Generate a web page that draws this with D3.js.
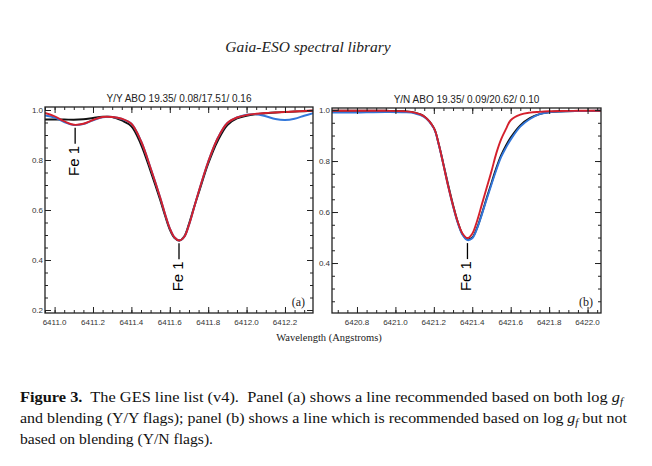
<!DOCTYPE html>
<html><head><meta charset="utf-8">
<script src="https://cdn.jsdelivr.net/npm/d3@7"></script>
<style>
html,body{margin:0;padding:0;background:#fff;}
svg{display:block;}
</style></head>
<body>
<svg id="c" width="652" height="466"></svg>
<script>
// ---------- DATA ----------
const titleA = "Y/Y ABO 19.35/ 0.08/17.51/ 0.16";
const titleB = "Y/N ABO 19.35/ 0.09/20.62/ 0.10";

const waveA = [6410.95,6411.00,6411.05,6411.10,6411.15,6411.20,6411.25,6411.30,6411.35,6411.40,6411.45,6411.50,6411.55,6411.575,6411.60,6411.625,6411.65,6411.675,6411.70,6411.725,6411.75,6411.80,6411.85,6411.90,6411.95,6412.00,6412.05,6412.10,6412.15,6412.20,6412.25,6412.30,6412.35];
const blackA = [0.962,0.962,0.962,0.961,0.963,0.968,0.973,0.972,0.958,0.935,0.862,0.755,0.640,0.578,0.522,0.488,0.478,0.494,0.545,0.608,0.667,0.785,0.877,0.940,0.966,0.977,0.983,0.987,0.990,0.992,0.994,0.995,0.997];
const blueA  = [0.978,0.970,0.952,0.940,0.944,0.959,0.971,0.972,0.964,0.945,0.876,0.768,0.650,0.585,0.527,0.490,0.478,0.492,0.540,0.605,0.672,0.793,0.888,0.948,0.970,0.981,0.983,0.975,0.964,0.960,0.965,0.977,0.988];
const redA   = [0.988,0.975,0.955,0.941,0.945,0.960,0.972,0.972,0.965,0.945,0.876,0.768,0.650,0.585,0.527,0.490,0.478,0.492,0.540,0.605,0.672,0.793,0.888,0.948,0.970,0.980,0.985,0.988,0.990,0.992,0.994,0.996,0.998];

const waveB = [6420.67,6420.75,6420.85,6420.95,6421.05,6421.10,6421.15,6421.20,6421.225,6421.25,6421.275,6421.30,6421.325,6421.35,6421.375,6421.40,6421.425,6421.45,6421.475,6421.50,6421.525,6421.55,6421.575,6421.60,6421.65,6421.70,6421.75,6421.80,6421.85,6421.95,6422.07];
const blackB = [0.997,0.997,0.997,0.997,0.995,0.990,0.975,0.930,0.868,0.788,0.705,0.628,0.560,0.512,0.493,0.500,0.538,0.594,0.655,0.714,0.772,0.822,0.860,0.892,0.940,0.968,0.984,0.991,0.994,0.996,0.997];
const blueB  = [0.990,0.990,0.991,0.992,0.991,0.987,0.973,0.928,0.866,0.785,0.700,0.622,0.556,0.510,0.490,0.497,0.535,0.590,0.650,0.708,0.765,0.815,0.852,0.884,0.935,0.965,0.984,0.991,0.994,0.996,0.997];
const redB   = [0.997,0.997,0.997,0.997,0.995,0.990,0.975,0.930,0.868,0.785,0.700,0.625,0.560,0.515,0.498,0.515,0.565,0.630,0.695,0.760,0.830,0.885,0.925,0.960,0.982,0.990,0.993,0.995,0.996,0.997,0.997];

const xTicksA = [6411.0,6411.2,6411.4,6411.6,6411.8,6412.0,6412.2];
const xTicksB = [6420.8,6421.0,6421.2,6421.4,6421.6,6421.8,6422.0];
const yTicksA = [0.2,0.4,0.6,0.8,1.0];
const yTicksB = [0.4,0.6,0.8,1.0];
const feWaveA = [6411.107,6411.648];
const feWaveB = [6421.375];
const lineLabel = "Fe 1";

const header = "Gaia-ESO spectral library";
const xAxisLabel = "Wavelength (Angstroms)";
const captionLines = [
  [{t:"Figure 3.",b:true},{t:"  The GES line list (v4).  Panel (a) shows a line recommended based on both log "},{t:"g",i:true},{t:"f",i:true,sub:true}],
  [{t:"and blending (Y/Y flags); panel (b) shows a line which is recommended based on log "},{t:"g",i:true},{t:"f",i:true,sub:true},{t:" but not"}],
  [{t:"based on blending (Y/N flags)."}]
];

// ---------- DRAW ----------
const svg = d3.select("#c");
const sans = "'Liberation Sans', Arial, sans-serif";
const serif = "'Liberation Serif', 'Times New Roman', serif";
const colBlack = "#111", colBlue = "#3277da", colRed = "#d4202c";

svg.append("text").attr("x",308).attr("y",52).attr("text-anchor","middle")
  .attr("font-family",serif).attr("font-style","italic").attr("font-size",15.5)
  .attr("fill","#222").text(header);

function panel(cfg){
  const g = svg.append("g");
  const x = d3.scaleLinear().domain(cfg.xd).range([cfg.l,cfg.r]);
  const y = d3.scaleLinear().domain(cfg.yd).range([cfg.b,cfg.t]);
  const id = "clip"+cfg.name;
  svg.append("clipPath").attr("id",id).append("rect")
    .attr("x",cfg.l).attr("y",cfg.t).attr("width",cfg.r-cfg.l).attr("height",cfg.b-cfg.t);

  const line = d3.line().x((d,i)=>x(cfg.wave[i])).y(d=>y(d)).curve(d3.curveCatmullRom.alpha(0.5));
  const lg = g.append("g").attr("clip-path",`url(#${id})`);
  [[cfg.black,colBlack],[cfg.blue,colBlue],[cfg.red,colRed]].forEach(([vals,c])=>{
    lg.append("path").attr("d",line(vals)).attr("fill","none").attr("stroke",c)
      .attr("stroke-width",1.9).attr("stroke-linejoin","round");
  });

  const minorX = d3.range(Math.ceil(cfg.xd[0]/0.05)*0.05, cfg.xd[1], 0.05);
  const minorY = d3.range(Math.ceil(cfg.yd[0]/0.05)*0.05, cfg.yd[1], 0.05);
  const axC = "#222";
  const axes = [
    [d3.axisBottom(x).tickValues(minorX).tickSize(3).tickFormat(""), `translate(0,${cfg.b})`],
    [d3.axisTop(x).tickValues(minorX).tickSize(3).tickFormat(""), `translate(0,${cfg.t})`],
    [d3.axisLeft(y).tickValues(minorY).tickSize(3).tickFormat(""), `translate(${cfg.l},0)`],
    [d3.axisRight(y).tickValues(minorY).tickSize(3).tickFormat(""), `translate(${cfg.r},0)`],
    [d3.axisBottom(x).tickValues(cfg.xt).tickSize(6).tickFormat(""), `translate(0,${cfg.b})`],
    [d3.axisTop(x).tickValues(cfg.xt).tickSize(6).tickFormat(""), `translate(0,${cfg.t})`],
    [d3.axisLeft(y).tickValues(cfg.yt).tickSize(6).tickFormat(""), `translate(${cfg.l},0)`],
    [d3.axisRight(y).tickValues(cfg.yt).tickSize(6).tickFormat(""), `translate(${cfg.r},0)`]
  ];
  axes.forEach(([ax,tr])=>{
    const a = g.append("g").attr("transform",tr).call(ax);
    a.select(".domain").remove();
    a.selectAll(".tick line").attr("stroke",axC).attr("stroke-width",1)
      .each(function(){
        const el=d3.select(this);
        ["x2","y2"].forEach(k=>{const v=el.attr(k); if(v!==null && +v!==0) el.attr(k,-v);});
      });
  });
  g.append("rect").attr("x",cfg.l).attr("y",cfg.t).attr("width",cfg.r-cfg.l).attr("height",cfg.b-cfg.t)
    .attr("fill","none").attr("stroke",axC).attr("stroke-width",1.3);

  g.selectAll(".xl").data(cfg.xt).enter().append("text")
    .attr("x",d=>x(d)).attr("y",cfg.b+12).attr("text-anchor","middle")
    .attr("font-family",sans).attr("font-size",8).attr("fill","#333")
    .text(d=>d.toFixed(1));
  g.selectAll(".yl").data(cfg.yt).enter().append("text")
    .attr("x",cfg.l-2).attr("y",d=>y(d)+3).attr("text-anchor","end")
    .attr("font-family",sans).attr("font-size",8).attr("fill","#333")
    .text(d=>d.toFixed(1));

  g.append("text").attr("x",(cfg.l+cfg.r)/2).attr("y",cfg.t-5).attr("text-anchor","middle")
    .attr("font-family",sans).attr("font-size",10).attr("fill","#222").text(cfg.title);

  cfg.fe.forEach(w=>{
    const i = d3.bisectLeft(cfg.wave,w);
    const vv = d3.min([cfg.red, cfg.blue, cfg.black], arr=>{
      const j=Math.min(i,arr.length-1), k=Math.max(0,i-1);
      const t=(w-cfg.wave[k])/(cfg.wave[j]-cfg.wave[k]||1);
      return arr[k]+(arr[j]-arr[k])*t;
    });
    const y0 = y(vv)+3;
    g.append("line").attr("x1",x(w)).attr("x2",x(w)).attr("y1",y0).attr("y2",y0+16)
      .attr("stroke","#000").attr("stroke-width",1.3);
    g.append("text").attr("transform",`translate(${x(w)+4},${y0+18}) rotate(-90)`)
      .attr("text-anchor","end").attr("font-family",sans).attr("font-size",15).attr("fill","#000")
      .text(lineLabel);
  });

  g.append("text").attr("x",cfg.r-8).attr("y",cfg.b-7).attr("text-anchor","end")
    .attr("font-family",serif).attr("font-size",12).attr("fill","#222").text(cfg.tag);
}

panel({name:"A", l:45, r:313, t:107, b:313, xd:[6410.95,6412.346], yd:[0.188,1.012],
  wave:waveA, black:blackA, blue:blueA, red:redA, xt:xTicksA, yt:yTicksA, fe:feWaveA, title:titleA, tag:"(a)"});
panel({name:"B", l:332, r:601, t:108, b:313, xd:[6420.67,6422.07], yd:[0.204,1.008],
  wave:waveB, black:blackB, blue:blueB, red:redB, xt:xTicksB, yt:yTicksB, fe:feWaveB, title:titleB, tag:"(b)"});

svg.append("text").attr("x",329).attr("y",341).attr("text-anchor","middle")
  .attr("font-family",serif).attr("font-size",10.5).attr("fill","#222").text(xAxisLabel);

// caption
const capY = [402,423,444];
const capW = [603,607,193];
captionLines.forEach((parts,li)=>{
  const t = svg.append("text").attr("x",20).attr("y",capY[li])
    .attr("font-family",serif).attr("font-size",15.5).attr("fill","#111")
    .attr("xml:space","preserve").style("white-space","pre");
  parts.forEach(p=>{
    const s = t.append("tspan").text(p.t);
    if(p.b) s.attr("font-weight","bold");
    if(p.i) s.attr("font-style","italic");
    if(p.sub) s.attr("font-size",10.5).attr("dy",3);
  });
  t.selectAll("tspan").each(function(d,i,n){
    const prev = i>0 ? n[i-1] : null;
    if(prev && d3.select(prev).attr("dy")==="3" && d3.select(this).attr("dy")===null) d3.select(this).attr("dy",-3);
  });
  t.attr("textLength",capW[li]).attr("lengthAdjust","spacingAndGlyphs");
});
</script>
</body></html>
